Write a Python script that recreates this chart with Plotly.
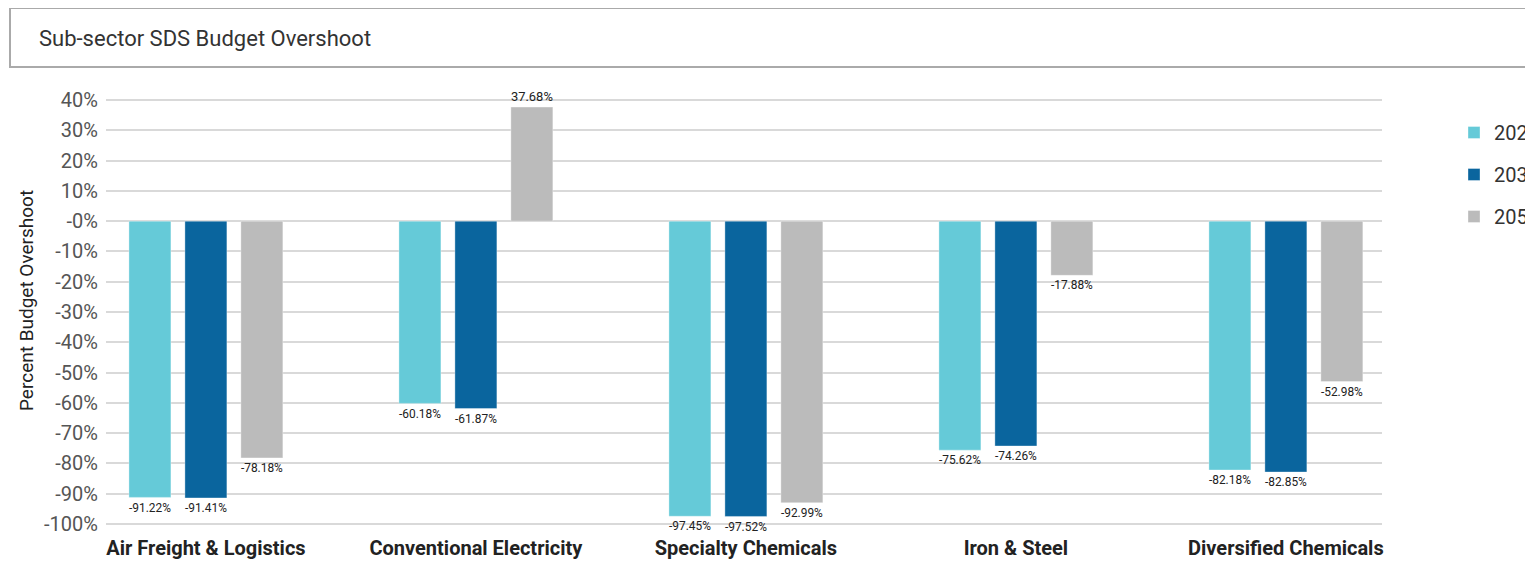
import plotly.graph_objects as go

categories = ["Air Freight & Logistics", "Conventional Electricity", "Specialty Chemicals",
              "Iron & Steel", "Diversified Chemicals"]
series_names = ["2025", "2030", "2050"]
values_2025 = [-91.22, -60.18, -97.45, -75.62, -82.18]
values_2030 = [-91.41, -61.87, -97.52, -74.26, -82.85]
values_2050 = [-78.18, 37.68, -92.99, -17.88, -52.98]
colors = ["#65CAD8", "#0A659E", "#BBBBBB"]
y_ticks = [40, 30, 20, 10, 0, -10, -20, -30, -40, -50, -60, -70, -80, -90, -100]
y_tick_labels = ["40%", "30%", "20%", "10%", "-0%", "-10%", "-20%", "-30%", "-40%", "-50%",
                 "-60%", "-70%", "-80%", "-90%", "-100%"]

fig = go.Figure()
for name, vals, col in zip(series_names, [values_2025, values_2030, values_2050], colors):
    fig.add_trace(go.Bar(
        x=list(range(len(categories))), y=vals, name=name,
        marker=dict(color=col, line=dict(color="rgba(255,255,255,0.35)", width=1)),
        text=[f"{v:.2f}%" for v in vals], textposition="outside",
        textfont=dict(family="Roboto", size=15, color="#222222"),
        cliponaxis=False, legendgroup=name,
    ))

# figure coordinates (page has an 8px body offset)
W, H = 1525, 553
L, R, T, B = 98, 1374, 89, 519
pw, ph = R - L, B - T

def px_x(p):
    return (p - L) / pw

def px_y(p):
    return (B - p) / ph

fig.update_layout(
    width=W, height=H,
    margin=dict(l=L, r=W - R, t=T, b=H - B, pad=0, autoexpand=False),
    paper_bgcolor="white", plot_bgcolor="white",
    barmode="group", bargap=0.378, bargroupgap=0.25,
    font=dict(family="Roboto", color="#333333"),
    showlegend=True,
    legend=dict(x=px_x(1446), y=px_y(105), xanchor="left", yanchor="top",
                font=dict(family="Roboto", size=20, color="#333333"),
                traceorder="grouped", tracegroupgap=13, bgcolor="rgba(0,0,0,0)"),
    xaxis=dict(range=[-0.370, 4.356], tickmode="array", tickvals=list(range(len(categories))),
               ticktext=[f"<b>{c}</b>" for c in categories], showgrid=False, zeroline=False,
               showline=False, ticks="", ticklabelstandoff=7,
               tickfont=dict(family="Roboto", size=20, color="#222222")),
    yaxis=dict(range=[-101, 41], tickmode="array", tickvals=y_ticks, ticktext=y_tick_labels,
               showgrid=True, gridcolor="#D9D9D9", gridwidth=2, zeroline=False,
               showline=False, ticks="", ticklabelstandoff=7,
               tickfont=dict(family="Roboto", size=20, color="#555555")),
    shapes=[dict(type="rect", xref="paper", yref="paper",
                 x0=px_x(2), x1=px_x(1590), y0=px_y(59), y1=px_y(0),
                 line=dict(color="#AAAAAA", width=2), fillcolor="white", layer="below")],
    annotations=[
        dict(text="Sub-sector SDS Budget Overshoot", xref="paper", yref="paper",
             x=px_x(29), y=px_y(30), xanchor="left", yanchor="middle", showarrow=False,
             font=dict(family="Roboto", size=22, color="#333333")),
        dict(text="Percent Budget Overshoot", xref="paper", yref="paper",
             x=px_x(18), y=px_y(293), xanchor="center", yanchor="middle", showarrow=False,
             textangle=-90, font=dict(family="Roboto", size=19, color="#222222")),
    ],
)

fig.write_html("out.html",
               post_script="document.documentElement.style.overflow='hidden';"
                           "document.body.style.overflow='hidden';")
